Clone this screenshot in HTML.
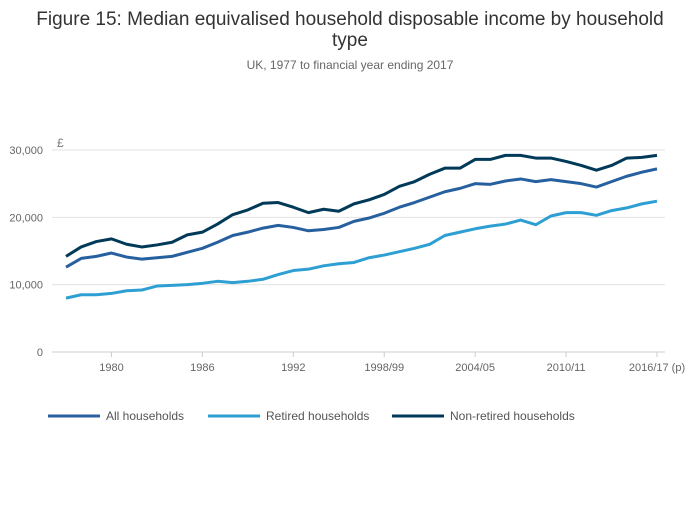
<!DOCTYPE html>
<html><head><meta charset="utf-8"><style>
body{margin:0;background:#fff;font-family:"Liberation Sans",sans-serif;}
</style></head><body>
<svg width="700" height="502" xmlns="http://www.w3.org/2000/svg" font-family="Liberation Sans, sans-serif">
<text x="350" y="25" text-anchor="middle" font-size="19" fill="#333">Figure 15: Median equivalised household disposable income by household</text>
<text x="350" y="46" text-anchor="middle" font-size="19" fill="#333">type</text>
<text x="350" y="69" text-anchor="middle" font-size="12" fill="#666">UK, 1977 to financial year ending 2017</text>
<text x="57" y="147" font-size="12" fill="#777">£</text>
<g id="grid"></g><g id="xt"></g><g id="lines"></g>
<g id="legend"></g>
</svg>
<script>
const years=["1977","1978","1979","1980","1981","1982","1983","1984","1985","1986","1987","1988","1989","1990","1991","1992","1993","1994/95","1995/96","1996/97","1997/98","1998/99","1999/00","2000/01","2001/02","2002/03","2003/04","2004/05","2005/06","2006/07","2007/08","2008/09","2009/10","2010/11","2011/12","2012/13","2013/14","2014/15","2015/16","2016/17 (p)"];
const allHouseholds=[12600,13900,14200,14700,14100,13800,14000,14200,14800,15400,16300,17300,17800,18400,18800,18500,18000,18200,18500,19400,19900,20600,21500,22200,23000,23800,24300,25000,24900,25400,25700,25300,25600,25300,25000,24500,25300,26100,26700,27200];
const retired=[8000,8500,8500,8700,9100,9200,9800,9900,10000,10200,10500,10300,10500,10800,11500,12100,12300,12800,13100,13300,14000,14400,14900,15400,16000,17300,17800,18300,18700,19000,19600,18900,20200,20700,20700,20300,21000,21400,22000,22400];
const nonRetired=[14200,15600,16400,16800,16000,15600,15900,16300,17400,17800,19000,20400,21100,22100,22200,21500,20700,21200,20900,22000,22600,23400,24600,25300,26400,27300,27300,28600,28600,29200,29200,28800,28800,28300,27700,27000,27700,28800,28900,29200];
const yTicks=[0,10000,20000,30000];
const yTickLabels=["0","10,000","20,000","30,000"];
const xTickIdx=[3,9,15,21,27,33,39];
const xTickLabels=["1980","1986","1992","1998/99","2004/05","2010/11","2016/17 (p)"];
const NS="http://www.w3.org/2000/svg";
const X=i=>66+i*(657-66)/(years.length-1);
const Y=v=>352-v*(352-150)/30000;
function mk(t,a,p){const e=document.createElementNS(NS,t);for(const k in a)e.setAttribute(k,a[k]);p.appendChild(e);return e;}
const g=document.getElementById('grid');
yTicks.forEach((v,i)=>{
 const l=mk('line',{x1:52,x2:665,y1:Y(v),y2:Y(v),stroke:v===0?'#ccc':'#e3e3e3','stroke-width':1},g);
 
 
 const t=mk('text',{x:43,y:Y(v)+4,'text-anchor':'end','font-size':11,fill:'#666'},g);t.textContent=yTickLabels[i];
 
 
});
const xt=document.getElementById('xt');
xTickIdx.forEach((idx,i)=>{
 const l=mk('line',{x1:X(idx),x2:X(idx),y1:352,y2:357,stroke:'#ccc'},xt);
 
 
 const t=mk('text',{x:X(idx),y:371,'text-anchor':'middle','font-size':11,fill:'#666'},xt);t.textContent=xTickLabels[i];
 
 
});
const series=[[allHouseholds,'#27609e','All households','all-households-line'],[retired,'#2e9fd2','Retired households','retired-households-line'],[nonRetired,'#003a58','Non-retired households','non-retired-households-line']];
const lg=document.getElementById('lines');
series.forEach(s=>{
 const p=mk('polyline',{points:s[0].map((v,i)=>X(i)+','+Y(v)).join(' '),fill:'none',stroke:s[1],'stroke-width':3,'stroke-linejoin':'round'},lg);
 
 
});
const leg=document.getElementById('legend');
const lx=[48,208,392];
series.forEach((s,i)=>{
 const l=mk('line',{x1:lx[i],x2:lx[i]+52,y1:416,y2:416,stroke:s[1],'stroke-width':3},leg);
 
 
 const t=mk('text',{x:lx[i]+58,y:420,'font-size':12,fill:'#555'},leg);t.textContent=s[2];
 
 
});
</script>
</body></html>
